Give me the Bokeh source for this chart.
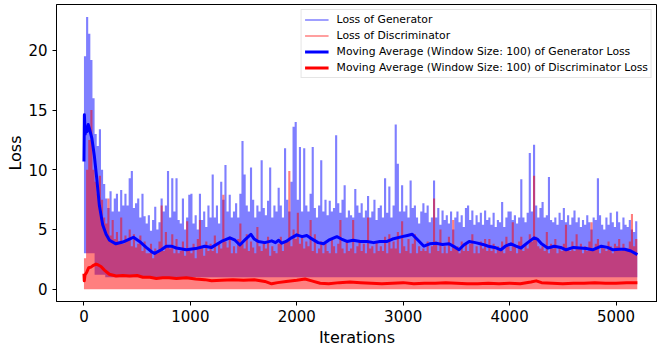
import numpy as np
from bokeh.plotting import figure
from bokeh.models import Range1d, FixedTicker, Legend, LegendItem
from bokeh.embed import file_html
from bokeh.resources import INLINE

# ---- data ----
BIN = 20  # iterations per column of the raw-loss envelope
# upper envelope of raw Generator loss, one value per 20 iterations
gen_hi = [
    19.5, 22.8, 21.4, 19.2, 16.0,   13.0, 12.0, 13.4, 10.0, 8.8,
    7.6, 6.8, 8.2, 6.5, 7.6,        8.0, 6.5, 8.3, 7.0, 8.0,
    7.0, 9.3, 9.9, 6.8, 7.2,        7.6, 6.0, 8.0, 6.1, 5.5,
    6.2, 4.9, 5.8, 6.9, 5.0,        5.6, 7.6, 6.5, 7.0, 9.9,
    6.0, 9.3, 6.5, 9.3, 5.8,        5.5, 7.6, 5.0, 6.0, 7.9,
    8.0, 5.5, 6.2, 5.0, 8.0,        5.8, 6.5, 5.2, 7.0, 6.0,
    9.6, 6.0, 7.0, 5.5, 9.0,        7.5, 10.4, 6.5, 7.9, 6.0,
    6.5, 7.2, 6.0, 8.0, 12.4,       9.6, 7.0, 6.5, 10.2, 7.5,
    6.0, 7.0, 6.5, 10.8, 6.8,       6.2, 7.4, 10.2, 6.0, 7.0,
    6.5, 8.5, 7.0, 6.0, 11.8,       7.5, 6.5, 9.0, 13.6, 14.0,
    7.5, 11.9, 6.5, 11.8, 7.0,      6.5, 8.0, 11.9, 6.8, 6.0,
    7.0, 10.8, 6.5, 7.5, 6.2,       7.4, 6.5, 6.8, 12.9, 7.2,
    6.4, 7.5, 8.7, 6.0, 6.6,        6.2, 6.0, 8.4, 7.0, 6.4,
    7.2, 6.0, 6.6, 7.8, 6.0,        6.5, 7.5, 5.8, 6.8, 7.0,
    6.0, 9.3, 6.4, 8.6, 6.0,        7.0, 13.8, 10.5, 6.5, 8.7,
    6.5, 7.0, 6.0, 9.1, 6.8,        7.0, 6.0, 5.5, 6.5, 7.2,
    6.4, 7.0, 5.6, 6.0, 9.1,        6.0, 6.8, 5.4, 6.6, 5.8,
    6.2, 5.5, 6.5, 5.0, 6.0,        6.5, 5.6, 6.2, 5.2, 6.8,
    7.0, 5.8, 6.6, 5.4, 6.2,        5.6, 6.4, 5.4, 6.6, 5.8,
    6.0, 5.4, 6.4, 5.2, 5.8,        5.6, 7.3, 5.2, 6.0, 6.5,
    6.5, 5.8, 6.2, 5.5, 6.0,        9.2, 6.0, 5.6, 6.4, 11.4,
    6.5, 12.1, 7.0, 6.0, 6.8,       7.3, 6.0, 6.2, 9.4, 5.8,
    5.6, 6.0, 5.4, 6.4, 5.8,        6.8, 5.6, 6.2, 5.4, 6.0,
    6.6, 5.6, 6.0, 5.2, 5.8,        5.4, 6.2, 5.6, 5.0, 6.0,
    5.8, 9.3, 6.2, 5.4, 5.0,        6.0, 5.4, 6.4, 5.6, 5.2,
    6.5, 5.6, 5.0, 6.0, 5.4,        5.2, 5.8, 5.0, 4.8, 5.7,
]
# lower envelope of raw Generator loss, one value per 100 iterations
gen_lo = [3.0, 1.2, 1.0, 1.0, 1.0, 1.0, 1.0, 1.0, 1.0, 1.0, 1.0, 1.0, 1.0,
          1.0, 1.0, 1.0, 1.0, 1.0, 1.0, 1.0, 1.0, 1.0, 1.0, 1.0, 1.0, 1.0,
          1.0, 1.0, 1.0, 1.0, 1.0, 1.0, 1.0, 1.0, 1.0, 1.0, 1.0, 1.0, 1.0,
          1.0, 1.0, 1.0, 1.0, 1.0, 1.0, 1.0, 1.0, 1.0, 1.0, 1.0, 1.0, 1.0]
# upper envelope of raw Discriminator loss, one value per 20 iterations
dis_hi = [
    2.6, 10.0, 12.5, 15.0, 10.0,    9.0, 8.0, 9.5, 7.5, 6.0,
    5.5, 7.6, 4.5, 5.8, 4.2,        4.8, 4.0, 6.0, 3.8, 4.5,
    4.2, 5.0, 3.6, 4.6, 3.5,        3.8, 4.5, 3.2, 4.0, 3.0,
    3.0, 3.8, 2.6, 3.4, 3.0,        4.0, 7.0, 3.2, 4.8, 3.6,
    3.4, 4.6, 3.0, 4.2, 3.0,        3.2, 4.0, 2.8, 5.7, 3.4,
    3.0, 3.8, 2.6, 4.2, 5.8,        3.6, 2.8, 4.0, 3.2, 3.8,
    3.2, 4.5, 3.0, 3.8, 3.4,        7.9, 4.0, 3.5, 4.4, 3.0,
    3.6, 3.0, 4.2, 5.5, 3.8,        3.4, 4.6, 3.2, 4.0, 3.5,
    3.0, 5.2, 3.6, 3.2, 4.0,        3.4, 4.4, 2.8, 3.6, 3.2,
    3.0, 3.8, 4.4, 3.2, 4.0,        4.0, 9.9, 3.6, 5.0, 4.2,
    6.4, 3.8, 4.4, 3.4, 4.0,        3.6, 5.8, 3.2, 4.6, 3.0,
    3.4, 4.0, 3.0, 3.8, 3.2,        3.0, 4.2, 3.6, 3.0, 3.8,
    5.8, 3.4, 3.0, 4.0, 3.2,        3.4, 5.8, 3.0, 3.6, 4.0,
    3.2, 3.8, 3.0, 6.0, 3.4,        3.6, 3.0, 4.0, 3.2, 3.6,
    3.2, 4.4, 3.0, 4.6, 3.4,        4.0, 3.4, 4.8, 3.0, 5.7,
    3.6, 3.2, 4.2, 3.0, 3.8,        4.6, 3.0, 3.6, 3.2, 3.4,
    3.2, 4.0, 3.0, 3.6, 7.6,        4.0, 3.2, 5.0, 3.0, 3.6,
    3.0, 4.4, 3.2, 5.8, 3.4,        3.6, 3.0, 4.0, 3.2, 3.8,
    3.2, 3.8, 4.6, 3.0, 3.6,        3.0, 4.0, 3.4, 4.2, 3.2,
    4.2, 3.2, 3.8, 3.0, 3.6,        3.4, 4.0, 3.0, 4.4, 3.6,
    3.2, 5.6, 3.6, 3.0, 4.0,        4.4, 3.2, 3.8, 3.4, 4.6,
    4.0, 9.5, 4.4, 3.6, 3.4,        3.6, 3.2, 4.8, 3.0, 3.8,
    3.4, 4.2, 3.0, 3.6, 3.2,        3.8, 5.4, 3.4, 3.2, 4.0,
    3.2, 4.6, 3.4, 3.8, 3.0,        3.6, 3.2, 4.0, 5.6, 3.4,
    3.8, 4.2, 3.0, 3.6, 3.4,        3.2, 4.0, 3.6, 3.0, 3.8,
    3.6, 4.2, 3.2, 3.8, 3.4,        3.4, 4.0, 6.3, 3.6, 4.2,
]

# moving averages (window 100)
gen_ma_x = [0, 4, 12, 20, 30, 40, 50, 75, 97, 120, 145, 176, 208, 240, 300, 365,
            428, 465, 522, 585, 640, 664, 727, 774, 821, 868, 962, 1050, 1135,
            1200, 1292, 1371, 1420, 1465, 1520, 1569, 1600, 1638, 1700, 1764,
            1800, 1830, 1858, 1900, 1950, 2000, 2050, 2094, 2126, 2200, 2252,
            2300, 2377, 2420, 2472, 2530, 2597, 2660, 2723, 2780, 2849, 2900,
            2991, 3040, 3085, 3140, 3195, 3250, 3306, 3370, 3431, 3490, 3525,
            3570, 3620, 3680, 3750, 3800, 3860, 3918, 3960, 4013, 4060, 4107,
            4170, 4230, 4260, 4300, 4358, 4420, 4480, 4531, 4600, 4660, 4720,
            4780, 4862, 4920, 4972, 5030, 5082, 5140, 5201]
gen_ma = [10.7, 14.6, 13.0, 13.6, 13.2, 13.8, 13.5, 12.6, 11.2, 9.3, 7.0, 5.4,
          4.6, 4.1, 3.8, 3.95, 4.2, 4.35, 4.0, 3.5, 3.1, 3.0, 3.3, 3.6, 3.6,
          3.45, 3.3, 3.4, 3.6, 3.5, 4.0, 4.3, 4.1, 3.7, 4.2, 4.6, 4.2, 4.0,
          3.9, 4.05, 3.9, 4.1, 3.85, 4.0, 4.3, 4.55, 4.4, 4.5, 4.3, 3.9, 3.8,
          4.1, 4.4, 4.2, 4.0, 4.1, 4.0, 4.0, 3.9, 4.0, 4.0, 4.2, 4.4, 4.5,
          4.6, 4.1, 3.6, 3.8, 3.85, 3.75, 3.8, 3.5, 3.3, 3.7, 4.0, 3.9, 3.75,
          3.6, 3.5, 3.3, 3.6, 3.8, 3.6, 3.45, 3.9, 4.3, 4.2, 3.8, 3.45, 3.6,
          3.5, 3.3, 3.5, 3.45, 3.4, 3.3, 3.6, 3.5, 3.3, 3.35, 3.35, 3.2, 2.9]
dis_ma_x = [0, 3, 10, 25, 45, 66, 90, 113, 130, 160, 192, 239, 302, 365, 428,
            500, 553, 620, 680, 740, 800, 868, 962, 1050, 1135, 1200, 1292,
            1400, 1500, 1600, 1700, 1764, 1820, 1900, 2000, 2078, 2140, 2220,
            2300, 2400, 2500, 2600, 2700, 2800, 2900, 3000, 3100, 3200, 3300,
            3400, 3500, 3600, 3700, 3800, 3900, 4000, 4100, 4200, 4250, 4300,
            4400, 4500, 4600, 4700, 4800, 4900, 5000, 5100, 5201]
dis_ma = [1.3, 0.7, 1.2, 1.4, 1.8, 1.85, 2.0, 2.1, 2.05, 1.9, 1.6, 1.25, 1.1,
          1.15, 1.1, 1.15, 1.0, 1.0, 0.9, 0.95, 0.95, 0.9, 0.95, 0.85, 0.8,
          0.7, 0.75, 0.8, 0.75, 0.8, 0.65, 0.45, 0.55, 0.65, 0.75, 0.85, 0.7,
          0.5, 0.45, 0.55, 0.6, 0.55, 0.5, 0.45, 0.5, 0.55, 0.45, 0.5, 0.5,
          0.55, 0.5, 0.45, 0.45, 0.5, 0.45, 0.5, 0.45, 0.6, 0.7, 0.55, 0.5,
          0.45, 0.5, 0.5, 0.55, 0.5, 0.5, 0.55, 0.55]

x_ticks = [0, 1000, 2000, 3000, 4000, 5000]
y_ticks = [0, 5, 10, 15, 20]
labels = ["Loss of Generator", "Loss of Discriminator",
          "Moving Average (Window Size: 100) of Generator Loss",
          "Moving Average (Window Size: 100) of Discriminator Loss"]

# ---- figure ----
FONT = "DejaVu Sans"
p = figure(width=657, height=349, output_backend="svg", toolbar_location=None,
           x_range=Range1d(-258, 5390), y_range=Range1d(-1.03, 23.84),
           min_border_left=56, min_border_right=0, min_border_top=4,
           min_border_bottom=44)
p.background_fill_color = "white"
p.border_fill_color = "white"
p.outline_line_color = "black"
p.outline_line_width = 1
p.xgrid.visible = False
p.ygrid.visible = False

# raw-loss envelopes as step areas
gen_hi_a = np.asarray(gen_hi, dtype=float)
dis_hi_a = np.asarray(dis_hi, dtype=float)
per_block = len(gen_hi_a) // len(gen_lo)
gen_lo_a = np.repeat(np.asarray(gen_lo, dtype=float), per_block)
xs = np.arange(len(gen_hi_a) + 1) * BIN
g_top = np.append(gen_hi_a, gen_hi_a[-1])
g_bot = np.append(gen_lo_a, gen_lo_a[-1])
d_top = np.append(dis_hi_a, dis_hi_a[-1])
d_bot = np.zeros_like(d_top)

p.varea_step(x=xs, y1=g_bot, y2=g_top, step_mode="after",
             fill_color="blue", fill_alpha=0.5)
p.varea_step(x=xs, y1=d_bot, y2=d_top, step_mode="after",
             fill_color="red", fill_alpha=0.5)

r3 = p.line(gen_ma_x, gen_ma, line_color="blue", line_width=3, line_join="round")
r4 = p.line(dis_ma_x, dis_ma, line_color="red", line_width=3, line_join="round")

# legend proxies for the raw series (a single NaN point: nothing drawn)
nan = float("nan")
r1 = p.line(x=[nan], y=[nan], line_color="blue", line_alpha=0.5, line_width=1.6)
r2 = p.line(x=[nan], y=[nan], line_color="red", line_alpha=0.5, line_width=1.6)
legend = Legend(items=[LegendItem(label=labels[0], renderers=[r1]),
                       LegendItem(label=labels[1], renderers=[r2]),
                       LegendItem(label=labels[2], renderers=[r3]),
                       LegendItem(label=labels[3], renderers=[r4])],
                location="top_right")
legend.label_text_font = FONT
legend.label_text_font_size = "10.8px"
legend.label_text_color = "#000000"
legend.glyph_width = 24
legend.glyph_height = 13
legend.label_height = 13
legend.label_standoff = 8
legend.spacing = 3
legend.padding = 3
legend.margin = 5
legend.border_line_color = "#cccccc"
legend.border_line_width = 1
legend.background_fill_alpha = 0.8
p.add_layout(legend)

# axes
p.xaxis.ticker = FixedTicker(ticks=x_ticks)
p.yaxis.ticker = FixedTicker(ticks=y_ticks)
for ax in (p.xaxis[0], p.yaxis[0]):
    ax.axis_line_color = "black"
    ax.major_tick_line_color = "black"
    ax.minor_tick_line_color = None
    ax.major_tick_out = 4
    ax.major_tick_in = 0
    ax.major_label_text_font = FONT
    ax.major_label_text_font_size = "15px"
    ax.major_label_text_color = "black"
    ax.axis_label_text_font = FONT
    ax.axis_label_text_font_size = "16px"
    ax.axis_label_text_font_style = "normal"
    ax.axis_label_text_color = "black"
p.xaxis.axis_label = "Iterations"
p.yaxis.axis_label = "Loss"
p.xaxis.major_label_standoff = 4
p.yaxis.major_label_standoff = 5
p.xaxis.axis_label_standoff = 3
p.yaxis.axis_label_standoff = 0

open("out.html", "w").write(file_html(p, INLINE))
